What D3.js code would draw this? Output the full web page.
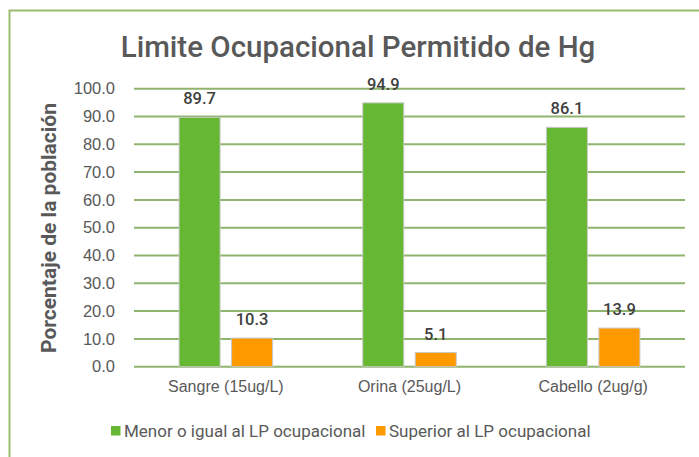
<!DOCTYPE html>
<html>
<head>
<meta charset="utf-8">
<script src="https://cdn.jsdelivr.net/npm/d3@7"></script>
<style>
  body { margin: 0; background: #fff; }
  svg { font-family: "Liberation Sans Narrow", "Roboto", sans-serif; }
</style>
</head>
<body>
<div id="my_dataviz"></div>
<script>
// data
var categories = ["Sangre (15ug/L)", "Orina (25ug/L)", "Cabello (2ug/g)"];
var seriesNames = ["Menor o igual al LP ocupacional", "Superior al LP ocupacional"];
var menor = [89.7, 94.9, 86.1];
var superior = [10.3, 5.1, 13.9];
var yTicks = [0, 10, 20, 30, 40, 50, 60, 70, 80, 90, 100];
var colors = ["#66b832", "#ff9900"];

var W = 699, H = 457;
var margin = {top: 88.7, right: 14, bottom: 90.3, left: 134},
    width = W - margin.left - margin.right,
    height = H - margin.top - margin.bottom;

var svg = d3.select("#my_dataviz")
    .append("svg")
    .attr("width", W)
    .attr("height", H);

// chart border (only top & left visible)
svg.append("path")
    .attr("d", "M9.5,457 L9.5,10.5 L699,10.5")
    .attr("fill", "none")
    .attr("stroke", "#9bbb6e")
    .attr("stroke-width", 2);

// title
svg.append("text")
    .attr("x", 358)
    .attr("y", 57)
    .attr("text-anchor", "middle")
    .style("font-size", "29.5px")
    .style("font-weight", "500")
    .style("fill", "#595959")
    .text("Limite Ocupacional  Permitido de Hg");

var g = svg.append("g")
    .attr("transform", "translate(" + margin.left + "," + margin.top + ")");

// scales
var x0 = d3.scaleBand()
    .domain(categories)
    .range([0, width])
    .padding(0);

var y = d3.scaleLinear()
    .domain([0, 100])
    .range([height, 0]);

// gridlines
g.append("g")
    .selectAll("line")
    .data(yTicks)
    .enter()
    .append("line")
    .attr("x1", 0)
    .attr("x2", width)
    .attr("y1", function(d) { return y(d); })
    .attr("y2", function(d) { return y(d); })
    .attr("stroke", "#8fb46e")
    .attr("stroke-width", 2);

// y axis
var yAxis = g.append("g")
    .call(d3.axisLeft(y).tickValues(yTicks).tickSize(0).tickPadding(19)
        .tickFormat(function(d) { return d3.format(".1f")(d); }));
yAxis.select(".domain").remove();
yAxis.selectAll("text")
    .style("font-size", "16.5px")
    .style("font-weight", "500")
    .style("fill", "#595959")
    .style("font-family", "inherit");

// x axis labels
var xAxis = g.append("g")
    .attr("transform", "translate(0," + height + ")")
    .call(d3.axisBottom(x0).tickSize(0).tickPadding(14));
xAxis.select(".domain").remove();
xAxis.selectAll("text")
    .style("font-size", "16px")
    .style("fill", "#595959")
    .style("font-family", "inherit");

// y axis title
svg.append("text")
    .attr("transform", "translate(56,228) rotate(-90)")
    .attr("text-anchor", "middle")
    .style("font-size", "21px")
    .style("font-weight", "bold")
    .style("fill", "#595959")
    .text("Porcentaje de la población");

// bars
var barW = 41, gap = 11.5;
var series = [menor, superior];

series.forEach(function(vals, s) {
    var off = s === 0 ? -(gap / 2 + barW) : gap / 2;
    g.append("g")
        .selectAll("rect")
        .data(vals)
        .enter()
        .append("rect")
        .attr("x", function(d, i) { return x0(categories[i]) + x0.bandwidth() / 2 + off; })
        .attr("y", function(d) { return y(d); })
        .attr("width", barW)
        .attr("height", function(d) { return height - y(d); })
        .attr("fill", colors[s])
        .attr("stroke", "#c8c8c8")
        .attr("stroke-width", 1);

    g.append("g")
        .selectAll("text")
        .data(vals)
        .enter()
        .append("text")
        .attr("x", function(d, i) { return x0(categories[i]) + x0.bandwidth() / 2 + off + barW / 2; })
        .attr("y", function(d) { return y(d) - 13; })
        .attr("text-anchor", "middle")
        .style("font-size", "16.5px")
        .style("font-weight", "500")
        .style("fill", "#404040")
        .text(function(d) { return d3.format(".1f")(d); });
});

// legend
var legendX = [111, 376];
var legend = svg.append("g")
    .selectAll("g")
    .data(seriesNames)
    .enter()
    .append("g")
    .attr("transform", function(d, i) { return "translate(" + legendX[i] + ",426)"; });
legend.append("rect")
    .attr("width", 9.5)
    .attr("height", 9.5)
    .attr("fill", function(d, i) { return colors[i]; });
legend.append("text")
    .attr("x", 13)
    .attr("y", 10.5)
    .style("font-size", "17px")
    .style("fill", "#595959")
    .text(function(d) { return d; });
</script>
</body>
</html>
